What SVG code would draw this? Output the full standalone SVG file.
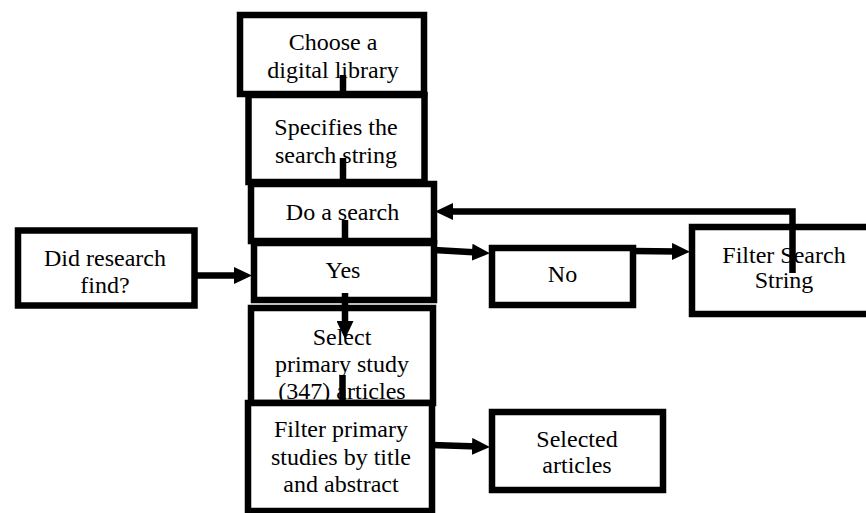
<svg xmlns="http://www.w3.org/2000/svg" width="866" height="513" viewBox="0 0 866 513">
<style>
.box{fill:#fff;stroke:#000;stroke-width:6.5}
.t{font-family:"Liberation Serif","Times New Roman",serif;font-size:24px;fill:#000;text-anchor:middle}
.c{fill:none;stroke:#000;stroke-width:6.5}
.a{marker-end:url(#ah)}
</style>
<defs>
<marker id="ah" markerUnits="userSpaceOnUse" markerWidth="18" markerHeight="17" refX="6" refY="8.5" orient="auto">
<path d="M0,0 L18,8.5 L0,17 z" fill="#000"/>
</marker>
</defs>
<rect width="866" height="513" fill="#fff"/>
<g id="n1"><rect class="box" x="240" y="15" width="184" height="79"/><text class="t" x="333" y="50">Choose a</text><text class="t" x="333" y="78">digital library</text></g>
<g id="n2"><rect class="box" x="248.5" y="95" width="176" height="87"/><text class="t" x="336" y="135">Specifies the</text><text class="t" x="336" y="163">search string</text></g>
<g id="n3"><rect class="box" x="251" y="184" width="183" height="57"/><text class="t" x="342.5" y="220">Do a search</text></g>
<g id="n4"><rect class="box" x="254" y="243" width="180" height="57"/><text class="t" x="343" y="278">Yes</text></g>
<g id="n5"><rect class="box" x="251" y="308" width="182" height="95"/><text class="t" x="342" y="345">Select</text><text class="t" x="342" y="372">primary study</text><text class="t" x="342" y="399">(347) articles</text></g>
<g id="n6"><rect class="box" x="248" y="403" width="184" height="108"/><text class="t" x="341" y="437">Filter primary</text><text class="t" x="341" y="465">studies by title</text><text class="t" x="341" y="492">and abstract</text></g>
<g id="n7"><rect class="box" x="18" y="230.5" width="176.5" height="75"/><text class="t" x="105" y="266">Did research</text><text class="t" x="105" y="293">find?</text></g>
<g id="n8"><rect class="box" x="492" y="248" width="141" height="57"/><text class="t" x="562.5" y="282">No</text></g>
<g id="n9"><rect class="box" x="692" y="227" width="180" height="87"/><text class="t" x="784" y="263">Filter Search</text><text class="t" x="784" y="288">String</text></g>
<g id="n10"><rect class="box" x="492" y="412" width="171" height="78"/><text class="t" x="577" y="447">Selected</text><text class="t" x="577" y="473">articles</text></g>
<g id="connectors">
<line class="c" x1="343" y1="75" x2="343" y2="95"/>
<line class="c" x1="343" y1="158" x2="343" y2="184"/>
<line class="c" x1="345" y1="220" x2="345" y2="243"/>
<line class="c a" x1="345" y1="293" x2="345" y2="327"/>
<line class="c" x1="342.5" y1="375" x2="342.5" y2="403"/>
<line class="c a" x1="194" y1="275.5" x2="240" y2="275.5"/>
<line class="c a" x1="434" y1="250" x2="478" y2="252.6"/>
<line class="c a" x1="633" y1="251" x2="678" y2="251.5"/>
<polyline class="c a" points="792.5,273 792.5,211.5 447,211.5"/>
<line class="c a" x1="432" y1="445" x2="478" y2="446.6"/>
</g>
</svg>
